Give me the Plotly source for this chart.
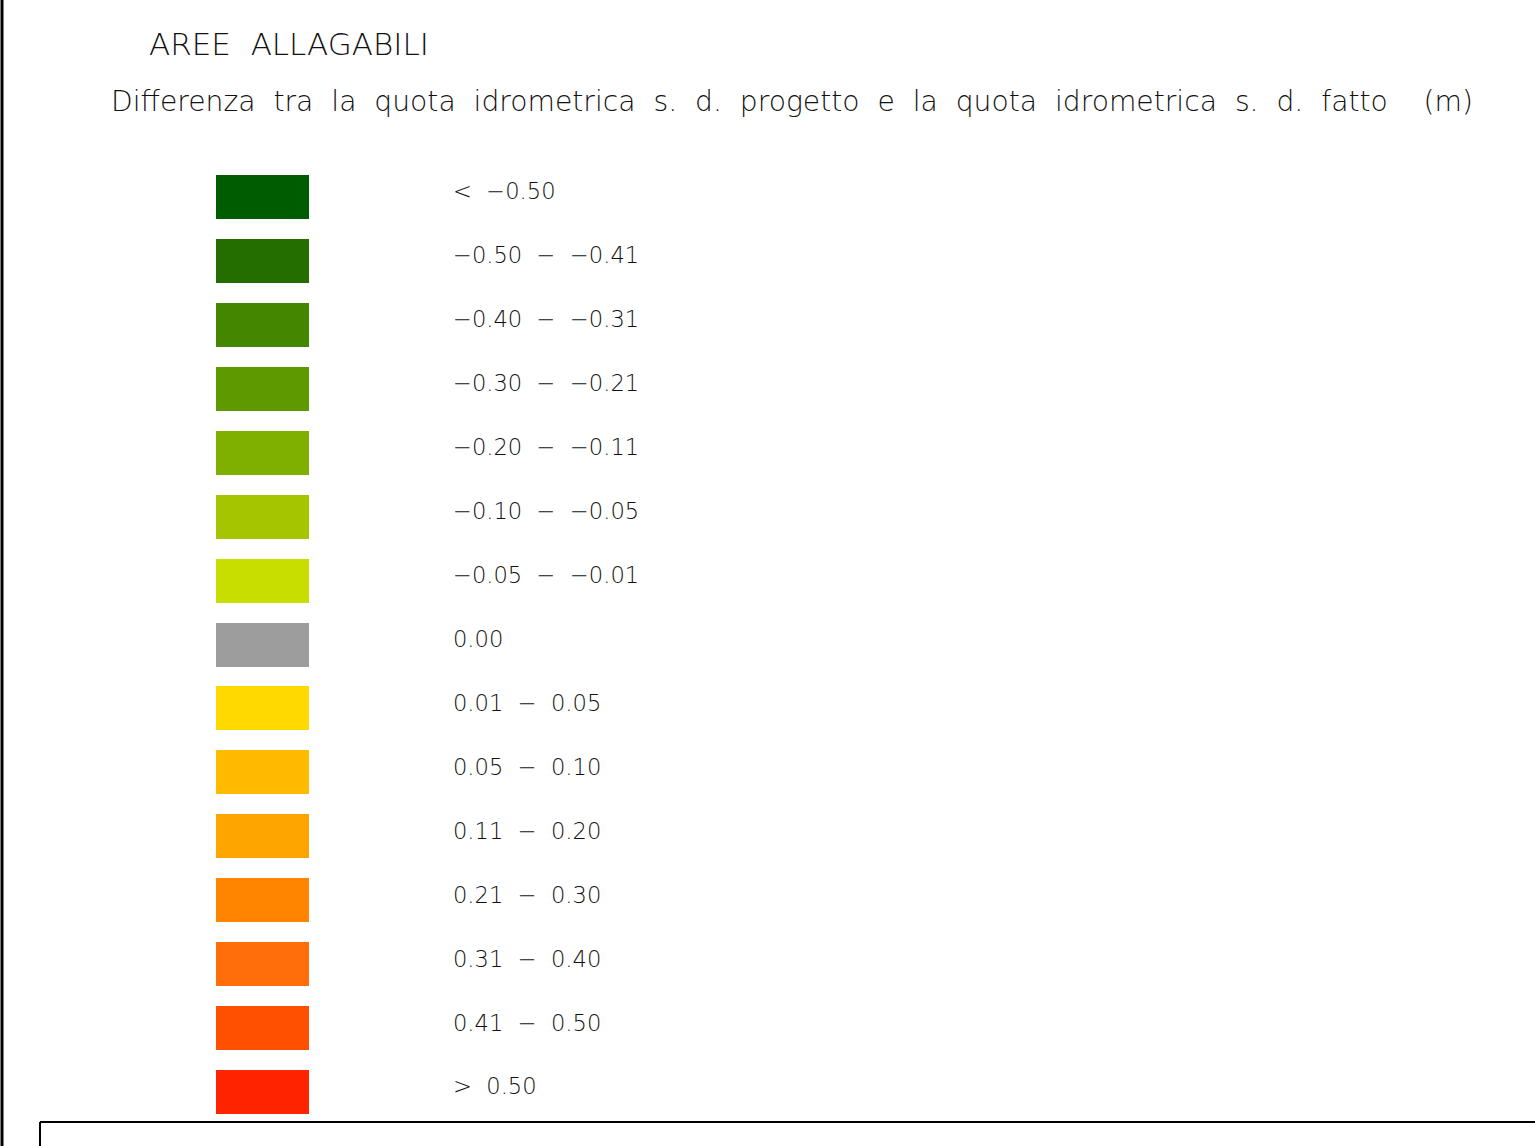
import plotly.graph_objects as go

# ---- data ----
class_labels = [
    "<  −0.50",
    "−0.50  −  −0.41",
    "−0.40  −  −0.31",
    "−0.30  −  −0.21",
    "−0.20  −  −0.11",
    "−0.10  −  −0.05",
    "−0.05  −  −0.01",
    "0.00",
    "0.01  −  0.05",
    "0.05  −  0.10",
    "0.11  −  0.20",
    "0.21  −  0.30",
    "0.31  −  0.40",
    "0.41  −  0.50",
    ">  0.50",
]
class_colors = [
    "#005C00", "#246E00", "#438600", "#5E9900", "#7FB000",
    "#A4C500", "#C8DD00", "#9D9D9D", "#FFD900", "#FFBB00",
    "#FFA500", "#FF8500", "#FF6E0A", "#FF5000", "#FF2400",
]
title_text = "AREE  ALLAGABILI"
subtitle_text = "Differenza  tra  la  quota  idrometrica  s.  d.  progetto  e  la  quota  idrometrica  s.  d.  fatto    (m)"

W, H = 1535, 1146
FONT = "DejaVu Sans"
rows = list(range(len(class_labels)))

# pixel geometry of the row axis
row0_px, step_px = 197.0, 63.93
y_top = -row0_px / step_px
y_bot = (H - row0_px) / step_px

fig = go.Figure()
fig.add_trace(go.Bar(
    y=rows, x=[93] * len(rows), base=[216] * len(rows), orientation="h",
    width=44 / step_px, marker=dict(color=class_colors, line=dict(width=0)),
    hoverinfo="skip", showlegend=False,
))
fig.add_trace(go.Scatter(
    y=[r - 0.05 for r in rows], x=[453] * len(rows), mode="text",
    text=class_labels, textposition="middle right",
    textfont=dict(family=FONT, size=22.6, color="#111111", weight=200),
    hoverinfo="skip", showlegend=False,
))

fig.add_annotation(x=147, y=1 - 44 / H, xref="x", yref="paper", text=title_text, showarrow=False,
                   xanchor="left", yanchor="middle",
                   font=dict(family=FONT, size=31, color="#111111", weight=200))
fig.add_annotation(x=109, y=1 - 101 / H, xref="x", yref="paper", text=subtitle_text, showarrow=False,
                   xanchor="left", yanchor="middle",
                   font=dict(family=FONT, size=28.2, color="#111111", weight=200))

# frame lines
fig.add_shape(type="line", xref="x", yref="paper", x0=2, x1=2, y0=0, y1=1,
              line=dict(color="black", width=3))
fig.add_shape(type="line", xref="x", yref="paper", x0=40, x1=W, y0=1 - 1122 / H, y1=1 - 1122 / H,
              line=dict(color="black", width=2))
fig.add_shape(type="line", xref="x", yref="paper", x0=40, x1=40, y0=1 - 1122 / H, y1=0,
              line=dict(color="black", width=2))

fig.update_layout(
    width=W, height=H, margin=dict(l=0, r=0, t=0, b=0),
    paper_bgcolor="white", plot_bgcolor="white",
    xaxis=dict(range=[0, W], visible=False, fixedrange=True),
    yaxis=dict(range=[y_bot, y_top], visible=False, fixedrange=True),
    bargap=0,
)
fig.write_html("out.html", config={"displayModeBar": False},
               post_script="document.body.style.margin='0';document.body.style.overflow='hidden';")
